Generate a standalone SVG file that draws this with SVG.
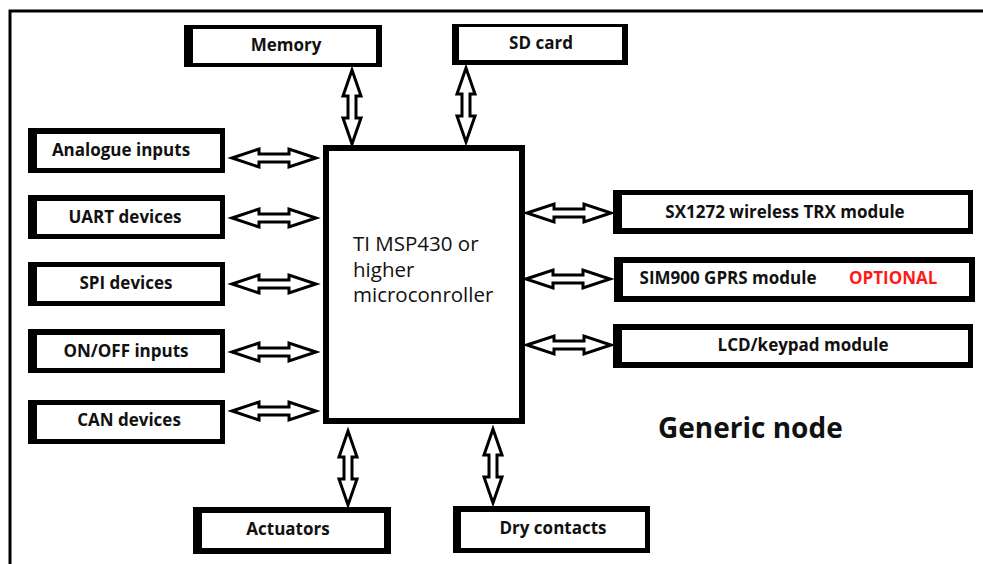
<svg xmlns="http://www.w3.org/2000/svg" xmlns:xlink="http://www.w3.org/1999/xlink" width="983" height="564" viewBox="0 0 983 564">
<style>
  .outer { fill: #000; }
  .inner { fill: #fff; }
  .lbl { font-family: "Open Sans", "DejaVu Sans", sans-serif; font-weight: bold; font-size: 17px; fill: #111; text-anchor: middle; }
  .opt { font-family: "Open Sans", "DejaVu Sans", sans-serif; font-weight: bold; font-size: 17px; fill: #ff1a1a; }
  .mcu { font-family: "Open Sans", "DejaVu Sans", sans-serif; font-size: 20.5px; fill: #111; }
  .title { font-family: "Open Sans", "DejaVu Sans", sans-serif; font-weight: bold; font-size: 28px; fill: #111; }
  .arr { fill: #fff; stroke: #000; stroke-width: 3; stroke-linejoin: miter; }
  .frame { fill: none; stroke: #000; stroke-width: 3; }
</style>
<defs>
  <path id="harr" class="arr" d="M0,0 L27,-9 L27,-4 L57,-4 L57,-9 L84,0 L57,9 L57,4 L27,4 L27,9 Z"/>
  <path id="varr" class="arr" d="M0,0 L-9,26 L-4,26 L-4,48 L-9,48 L0,74 L9,48 L4,48 L4,26 L9,26 Z"/>
</defs>
<rect width="983" height="564" fill="#fff"/>
<path class="frame" d="M10,564 L10,11 L983,11"/>

<g id="connectors">
  <use xlink:href="#varr" x="352" y="70"/>
  <use xlink:href="#varr" x="466" y="68"/>
  <use xlink:href="#varr" x="348" y="431"/>
  <use xlink:href="#varr" x="493" y="429"/>
  <use xlink:href="#harr" x="232" y="158"/>
  <use xlink:href="#harr" x="232" y="218"/>
  <use xlink:href="#harr" x="232" y="284"/>
  <use xlink:href="#harr" x="232" y="352"/>
  <use xlink:href="#harr" x="232" y="411"/>
  <use xlink:href="#harr" x="527" y="213"/>
  <use xlink:href="#harr" x="526" y="279"/>
  <use xlink:href="#harr" x="527" y="345"/>
</g>

<g id="memory">
  <rect class="outer" x="184" y="25" width="198" height="42"/>
  <rect class="inner" x="193" y="29" width="183" height="34"/>
  <text class="lbl" x="286" y="51">Memory</text>
</g>
<g id="sdcard">
  <rect class="outer" x="452" y="24" width="176" height="41"/>
  <rect class="inner" x="459" y="27" width="163" height="33"/>
  <text class="lbl" x="541" y="49">SD card</text>
</g>
<g id="analogue">
  <rect class="outer" x="28" y="128" width="197" height="45"/>
  <rect class="inner" x="37" y="134" width="183" height="34"/>
  <text class="lbl" x="121" y="156">Analogue inputs</text>
</g>
<g id="uart">
  <rect class="outer" x="28" y="195" width="197" height="44"/>
  <rect class="inner" x="37" y="201" width="183" height="33"/>
  <text class="lbl" x="125" y="223">UART devices</text>
</g>
<g id="spi">
  <rect class="outer" x="28" y="262" width="197" height="44"/>
  <rect class="inner" x="37" y="267" width="183" height="34"/>
  <text class="lbl" x="126" y="289">SPI devices</text>
</g>
<g id="onoff">
  <rect class="outer" x="28" y="329" width="197" height="44"/>
  <rect class="inner" x="37" y="335" width="183" height="33"/>
  <text class="lbl" x="126" y="357">ON/OFF inputs</text>
</g>
<g id="can">
  <rect class="outer" x="28" y="400" width="197" height="44"/>
  <rect class="inner" x="37" y="405" width="183" height="34"/>
  <text class="lbl" x="129" y="426">CAN devices</text>
</g>
<g id="mcu">
  <rect class="outer" x="323" y="145" width="202" height="279"/>
  <rect class="inner" x="329" y="151" width="190" height="267"/>
  <text class="mcu" x="353" y="251">TI MSP430 or</text>
  <text class="mcu" x="353" y="277">higher</text>
  <text class="mcu" x="353" y="302">microconroller</text>
</g>
<g id="sx1272">
  <rect class="outer" x="613" y="190" width="360" height="44"/>
  <rect class="inner" x="622" y="195" width="346" height="33"/>
  <text class="lbl" x="785" y="218">SX1272 wireless TRX module</text>
</g>
<g id="sim900">
  <rect class="outer" x="614" y="257" width="361" height="45"/>
  <rect class="inner" x="623" y="263" width="346" height="33"/>
  <text class="lbl" x="728" y="284">SIM900 GPRS module</text>
  <text class="opt" x="849" y="284">OPTIONAL</text>
</g>
<g id="lcd">
  <rect class="outer" x="613" y="324" width="360" height="44"/>
  <rect class="inner" x="622" y="330" width="346" height="32"/>
  <text class="lbl" x="803" y="351">LCD/keypad module</text>
</g>
<g id="actuators">
  <rect class="outer" x="193" y="507" width="198" height="47"/>
  <rect class="inner" x="202" y="513" width="182" height="35"/>
  <text class="lbl" x="288" y="535">Actuators</text>
</g>
<g id="drycontacts">
  <rect class="outer" x="453" y="506" width="197" height="47"/>
  <rect class="inner" x="461" y="512" width="184" height="36"/>
  <text class="lbl" x="553" y="534">Dry contacts</text>
</g>
<g id="generic">
  <text class="title" x="658" y="438">Generic node</text>
</g>
</svg>
